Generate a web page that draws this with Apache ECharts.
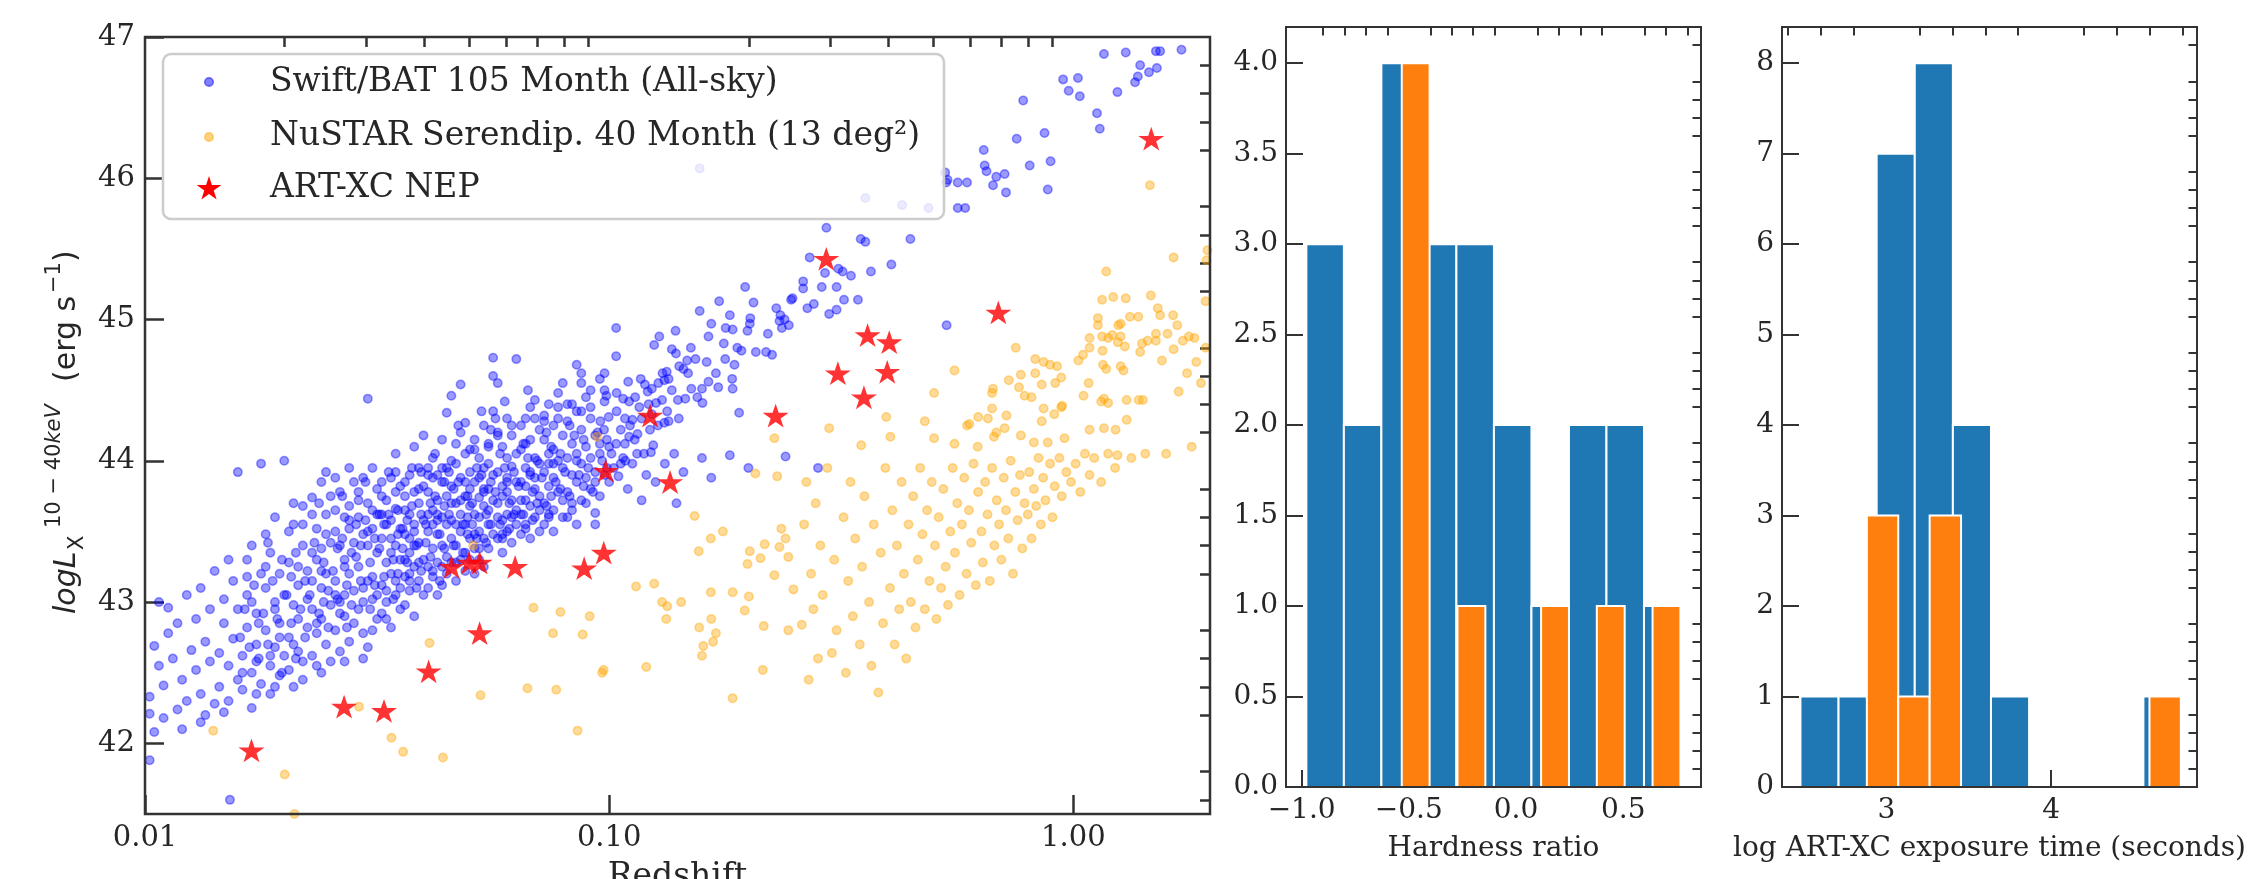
<!DOCTYPE html>
<html>
<head>
<meta charset="utf-8">
<script src="https://cdn.jsdelivr.net/npm/echarts@6.0.0/dist/echarts.min.js"></script>
<style>
  html, body { margin: 0; padding: 0; background: #ffffff; }
  #main { width: 2259px; height: 879px; }
</style>
</head>
<body>
<div id="main"></div>
<script>
// ---------------------------------------------------------------------------
// Data
// ---------------------------------------------------------------------------

// Swift/BAT 105-month AGN: [log10(redshift), log L_X (10-40 keV)]
const batPoints = [
  [-1.99,42.33],[-1.99,42.21],[-1.98,42.69],[-1.99,41.88],[-1.98,42.08],[-1.97,43.00],[-1.96,42.41],[-1.96,42.18],[-1.95,42.96],[-1.97,42.55],[-1.95,42.78],
  [-1.94,42.60],[-1.93,42.24],[-1.93,42.85],[-1.92,42.45],[-1.91,43.05],[-1.91,42.30],[-1.90,42.66],[-1.92,42.10],
  [-1.89,42.52],[-1.89,42.88],[-1.88,42.35],[-1.88,43.10],[-1.87,42.72],[-1.87,42.20],[-1.86,42.95],[-1.86,42.58],[-1.85,42.28],[-1.85,43.22],[-1.88,42.15],
  [-1.84,42.64],[-1.84,42.40],[-1.83,42.85],[-1.83,43.02],[-1.82,42.30],[-1.82,42.55],[-1.81,42.74],[-1.81,43.15],[-1.80,42.45],[-1.80,42.95],[-1.80,43.92],[-1.83,42.22],[-1.82,43.30],[-1.817,41.60],
  [-1.79,42.62],[-1.79,42.38],[-1.78,42.82],[-1.78,43.05],[-1.77,42.50],[-1.77,42.25],[-1.77,43.40],[-1.76,42.70],[-1.76,42.92],[-1.75,43.20],[-1.75,42.42],[-1.75,43.98],[-1.78,43.30],[-1.76,42.58],
  [-1.74,42.80],[-1.74,43.10],[-1.73,42.55],[-1.73,42.35],[-1.73,43.35],[-1.72,42.68],[-1.72,42.95],[-1.72,43.60],[-1.71,42.48],[-1.71,43.20],[-1.71,42.85],[-1.70,44.00],[-1.70,42.62],[-1.70,43.05],[-1.74,43.48],[-1.72,42.40],
  [-1.69,42.75],[-1.69,43.28],[-1.69,42.52],[-1.68,42.98],[-1.68,43.55],[-1.68,42.40],[-1.67,42.65],[-1.67,43.12],[-1.67,42.88],[-1.66,43.40],[-1.66,42.58],[-1.66,43.68],[-1.65,42.82],[-1.65,43.02],[-1.65,43.22],[-1.64,43.74],[-1.66,42.45],[-1.68,43.70],
  [-1.64,42.62],[-1.64,42.95],[-1.63,43.30],[-1.63,42.78],[-1.63,43.52],[-1.62,42.50],[-1.62,43.10],[-1.62,42.88],[-1.61,43.62],[-1.61,42.70],[-1.61,43.20],[-1.60,42.58],[-1.60,43.42],[-1.60,42.98],[-1.62,43.85],[-1.64,43.15],[-1.63,42.55],[-1.61,43.92],[-1.60,43.75],[-1.62,43.38],
  [-1.59,42.80],[-1.59,43.15],[-1.59,43.50],[-1.58,42.65],[-1.58,43.00],[-1.58,43.78],[-1.57,43.30],[-1.57,42.90],[-1.57,43.60],[-1.56,42.72],[-1.56,43.20],[-1.56,43.95],[-1.55,43.42],[-1.55,42.85],[-1.55,43.08],[-1.58,43.40],[-1.57,42.58],[-1.56,43.68],[-1.55,43.85],[-1.59,43.88],[-1.57,43.05],[-1.56,43.52],
  [-1.54,42.95],[-1.54,43.25],[-1.54,43.60],[-1.53,42.78],[-1.53,43.10],[-1.53,43.88],[-1.52,44.44],[-1.52,43.40],[-1.52,42.68],[-1.52,43.70],[-1.51,43.02],[-1.51,43.52],[-1.51,43.18],[-1.50,42.88],[-1.50,43.35],[-1.50,43.80],[-1.50,43.62],[-1.53,43.48],[-1.51,43.95],[-1.54,43.78],[-1.52,43.15],[-1.50,43.05],[-1.53,42.60],[-1.51,42.80],
  [-1.49,43.12],[-1.49,43.45],[-1.49,42.92],[-1.48,43.72],[-1.48,43.28],[-1.48,43.00],[-1.47,43.58],[-1.47,43.88],[-1.47,42.82],[-1.47,43.20],[-1.46,43.40],[-1.46,43.66],[-1.46,43.05],[-1.46,44.05],[-1.45,43.30],[-1.45,43.52],[-1.45,42.95],[-1.45,43.82],[-1.48,43.55],[-1.49,43.85],[-1.46,43.15],[-1.47,43.35],[-1.45,43.10],[-1.48,42.88],[-1.46,43.92],[-1.49,43.62],
  [-1.44,43.18],[-1.44,43.48],[-1.44,43.75],[-1.44,42.98],[-1.43,43.35],[-1.43,43.62],[-1.43,43.90],[-1.43,43.08],[-1.42,43.25],[-1.42,43.55],[-1.42,44.10],[-1.42,42.90],[-1.41,43.42],[-1.41,43.70],[-1.41,43.15],[-1.41,43.95],[-1.40,43.30],[-1.40,43.58],[-1.40,43.82],[-1.40,43.05],[-1.43,43.45],[-1.42,43.78],[-1.44,43.30],[-1.41,43.28],[-1.40,44.18],[-1.43,43.20],[-1.42,43.40],[-1.44,43.65],
  [-1.39,43.25],[-1.39,43.50],[-1.39,43.78],[-1.39,43.10],[-1.38,43.38],[-1.38,43.65],[-1.38,44.02],[-1.38,43.18],[-1.37,43.48],[-1.37,43.72],[-1.37,43.28],[-1.37,43.90],[-1.36,43.40],[-1.36,43.60],[-1.36,43.85],[-1.36,43.12],[-1.35,43.32],[-1.35,43.55],[-1.35,44.34],[-1.35,43.75],[-1.38,43.88],[-1.37,43.05],[-1.36,44.15],[-1.39,43.62],[-1.35,43.20],[-1.38,43.55],[-1.36,43.25],[-1.37,43.58],[-1.39,43.95],[-1.35,43.95],
  [-1.34,43.28],[-1.34,43.58],[-1.34,43.82],[-1.34,44.46],[-1.33,43.40],[-1.33,43.70],[-1.33,43.15],[-1.33,43.98],[-1.32,43.50],[-1.32,43.62],[-1.32,43.88],[-1.32,44.54],[-1.31,43.35],[-1.31,43.75],[-1.31,44.27],[-1.31,43.22],[-1.30,43.45],[-1.30,43.68],[-1.30,43.92],[-1.30,44.08],[-1.33,43.55],[-1.32,43.30],[-1.34,43.70],[-1.31,43.55],[-1.30,43.30],[-1.33,44.12],[-1.34,43.45],[-1.31,43.85],[-1.32,44.20],[-1.30,43.80],
  [-1.29,43.38],[-1.29,43.62],[-1.29,43.85],[-1.29,43.20],[-1.28,43.50],[-1.28,43.74],[-1.28,44.02],[-1.28,43.30],[-1.27,43.45],[-1.27,43.68],[-1.27,43.95],[-1.27,44.25],[-1.26,43.55],[-1.26,43.80],[-1.26,43.38],[-1.26,44.12],[-1.25,43.48],[-1.25,43.72],[-1.25,44.73],[-1.25,44.60],[-1.25,43.90],[-1.28,43.88],[-1.27,43.25],[-1.29,44.08],[-1.26,43.65],[-1.28,43.60],[-1.27,43.78],[-1.25,44.35],[-1.29,43.48],[-1.26,43.98],
  [-1.24,43.45],[-1.24,43.70],[-1.24,43.92],[-1.24,44.55],[-1.23,43.58],[-1.23,43.82],[-1.23,44.10],[-1.23,43.35],[-1.22,43.62],[-1.22,43.88],[-1.22,43.50],[-1.22,44.30],[-1.21,43.72],[-1.21,43.96],[-1.21,43.42],[-1.21,44.18],[-1.20,43.65],[-1.20,43.85],[-1.20,44.72],[-1.20,43.55],[-1.23,43.75],[-1.22,44.02],[-1.24,43.60],[-1.21,43.60],[-1.20,44.05],[-1.24,44.20],[-1.22,43.78],[-1.23,43.48],
  [-1.19,43.62],[-1.19,43.85],[-1.19,44.08],[-1.19,43.48],[-1.18,43.72],[-1.18,43.95],[-1.18,44.30],[-1.18,43.55],[-1.17,43.68],[-1.17,43.90],[-1.17,44.15],[-1.16,44.43],[-1.16,43.80],[-1.16,43.60],[-1.16,44.02],[-1.15,43.75],[-1.15,43.98],[-1.15,44.22],[-1.15,43.50],[-1.18,43.82],[-1.17,44.38],[-1.19,43.72],[-1.16,43.88],[-1.15,43.65],[-1.17,43.45],[-1.18,44.12],
  [-1.14,43.70],[-1.14,43.92],[-1.14,44.15],[-1.14,43.55],[-1.13,43.82],[-1.13,44.05],[-1.13,44.40],[-1.12,43.65],[-1.12,43.88],[-1.12,44.25],[-1.12,43.50],[-1.11,43.78],[-1.11,44.00],[-1.11,44.48],[-1.10,43.72],[-1.10,43.95],[-1.10,44.18],[-1.10,43.60],[-1.13,43.60],[-1.11,44.30],[-1.14,44.32],[-1.12,44.08],[-1.10,44.55],[-1.13,43.98],
  [-1.09,43.78],[-1.09,44.02],[-1.09,44.28],[-1.08,43.65],[-1.08,43.90],[-1.08,44.12],[-1.07,44.68],[-1.07,43.85],[-1.07,44.05],[-1.07,44.35],[-1.06,43.72],[-1.06,43.98],[-1.06,44.22],[-1.05,43.88],[-1.05,44.10],[-1.05,44.45],[-1.08,44.40],[-1.06,44.55],[-1.09,43.60],[-1.05,43.70],[-1.07,43.55],[-1.06,44.62],
  [-1.04,43.80],[-1.04,44.02],[-1.04,44.30],[-1.03,43.63],[-1.03,43.92],[-1.03,44.18],[-1.02,44.05],[-1.02,43.75],[-1.01,43.90],[-1.01,44.42],[-1.00,44.10],[-1.00,43.85],[-1.04,44.50],[-1.02,44.58],[-1.03,43.55],[-1.01,44.62],
  [-0.99,43.95],[-0.98,43.89],[-0.97,44.02],[-0.96,43.80],[-0.95,43.98],[-0.94,44.05],[-0.93,43.72],[-0.92,43.90],[-0.91,44.06],[-0.90,43.85],[-0.88,43.98],[-0.86,44.05],[-0.855,43.70],[-0.84,43.92],[-0.80,44.02],[-0.78,43.88],[-0.74,44.04],[-0.70,43.95],[-0.62,44.03],[-0.55,43.95],
  [-1.006,44.46],[-0.984,44.48],[-0.970,44.44],[-0.957,44.42],[-0.944,44.45],[-0.917,44.49],[-0.899,44.41],[-0.886,44.43],[-0.852,44.43],[-0.836,44.44],[-0.720,44.34],[-0.881,44.27],[-0.872,44.28],[-0.984,44.35],[-1.001,44.31],[-0.966,44.30],[-0.950,44.29],[-0.930,44.30],[-0.908,44.33],[-0.912,44.22],[-0.939,44.19],[-0.905,44.11],[-1.019,44.28],[-1.011,44.22],[-0.975,44.22],[-0.957,44.17],[-0.966,44.12],
  [-0.985,44.74],[-0.959,44.56],[-0.932,44.58],[-0.923,44.54],[-0.908,44.51],[-0.894,44.55],[-0.881,44.57],[-0.872,44.58],[-0.823,44.51],[-0.800,44.51],[-0.786,44.56],[-0.765,44.52],[-0.735,44.58],[-0.734,44.51],[-0.799,44.41],
  [-0.903,44.82],[-0.892,44.88],[-0.786,44.88],[-0.753,44.83],[-0.724,44.80],[-0.715,44.78],[-0.684,44.77],[-0.662,44.77],[-0.649,44.75],[-0.824,44.80],[-0.856,44.76],[-0.865,44.79],[-0.832,44.71],[-0.814,44.72],[-0.849,44.67],[-0.840,44.65],[-0.876,44.63],
  [-0.805,45.06],[-0.740,45.03],[-0.696,45.01],[-0.697,44.97],[-0.702,44.92],[-0.780,44.97],[-0.749,44.94],[-0.734,44.93],[-0.658,44.90],[-0.857,44.92],[-0.985,44.94],
  [-0.573,45.08],[-0.559,45.11],[-0.526,45.04],[-0.510,45.07],[-0.640,45.08],[-0.631,45.03],[-0.622,45.00],[-0.633,44.99],[-0.613,44.96],[-0.628,44.94],
  [-0.494,45.14],[-0.464,45.14],[-0.608,45.14],[-0.605,45.15],[-0.689,45.12],[-0.763,45.13],[-0.707,45.23],
  [-0.582,45.27],[-0.582,45.22],[-0.542,45.23],[-0.510,45.23],[-0.535,45.33],[-0.506,45.36],[-0.497,45.34],[-0.479,45.31],
  [-0.532,45.65],[-0.458,45.57],[-0.448,45.55],[-0.351,45.57],[-0.568,45.44],[-0.392,45.39],[-0.436,45.34],[-0.273,44.96],
  [-0.249,45.97],[-0.229,45.97],[-0.271,45.99],[-0.249,45.79],[-0.233,45.79],
  [-0.805,46.07],[-0.448,45.86],[-0.369,45.81],[-0.312,45.79],[-0.276,46.04],[-0.274,45.97],
  [-0.193,46.20],[-0.191,46.09],[-0.187,46.05],[-0.166,46.01],[-0.148,46.03],[-0.173,45.95],[-0.145,45.90],[-0.094,46.09],[-0.049,46.12],[-0.055,45.92],
  [-0.108,46.55],[0.051,46.46],[0.057,46.35],[-0.122,46.28],[-0.062,46.32],
  [-0.022,46.70],[0.010,46.71],[-0.010,46.62],[0.014,46.58],[0.095,46.61],[0.144,46.80],[0.139,46.72],[0.133,46.68],[0.163,46.75],[0.180,46.78],
  [0.066,46.88],[0.113,46.89],[0.178,46.90],[0.187,46.90],[0.233,46.91],
  // dense core of the local AGN sequence
  [-1.795,42.75],[-1.785,42.95],[-1.775,42.68],[-1.765,43.12],[-1.755,42.85],[-1.79,42.50],[-1.77,43.00],[-1.76,42.35],[-1.78,43.18],[-1.755,42.60],
  [-1.745,42.92],[-1.735,42.70],[-1.725,43.15],[-1.715,42.88],[-1.705,43.30],[-1.74,43.25],[-1.73,42.62],[-1.72,43.00],[-1.71,42.75],[-1.705,42.50],[-1.735,43.42],
  [-1.695,43.05],[-1.685,42.85],[-1.675,43.35],[-1.665,42.95],[-1.655,43.15],[-1.69,43.50],[-1.68,42.70],[-1.67,43.25],[-1.66,43.55],[-1.655,42.75],[-1.685,43.18],[-1.675,42.60],
  [-1.645,43.05],[-1.635,43.42],[-1.625,42.92],[-1.615,43.28],[-1.605,43.08],[-1.64,43.62],[-1.63,42.85],[-1.62,43.22],[-1.61,43.48],[-1.605,42.82],[-1.64,43.35],[-1.625,43.70],[-1.615,43.00],
  [-1.595,43.22],[-1.585,43.02],[-1.575,43.45],[-1.565,43.12],[-1.555,43.35],[-1.59,43.65],[-1.58,42.92],[-1.57,43.25],[-1.56,43.58],[-1.555,42.98],[-1.585,43.38],[-1.575,43.75],[-1.565,42.82],[-1.59,43.05],
  [-1.545,43.32],[-1.535,43.15],[-1.525,43.58],[-1.515,43.28],[-1.505,43.45],[-1.54,43.72],[-1.53,43.00],[-1.52,43.50],[-1.51,43.65],[-1.505,43.12],[-1.535,43.40],[-1.525,43.85],[-1.515,42.95],[-1.545,43.55],
  [-1.495,43.38],[-1.485,43.18],[-1.475,43.62],[-1.465,43.30],[-1.455,43.48],[-1.49,43.75],[-1.48,43.08],[-1.47,43.45],[-1.46,43.78],[-1.455,43.20],[-1.485,43.55],[-1.475,43.92],[-1.465,43.02],[-1.495,43.62],[-1.455,43.65],
  [-1.445,43.52],[-1.435,43.28],[-1.425,43.68],[-1.415,43.40],[-1.405,43.62],[-1.44,43.85],[-1.43,43.15],[-1.42,43.50],[-1.41,43.80],[-1.405,43.22],[-1.435,43.58],[-1.425,43.95],[-1.415,43.10],[-1.445,43.38],[-1.405,43.92],
  [-1.395,43.55],[-1.385,43.32],[-1.375,43.75],[-1.365,43.48],[-1.355,43.68],[-1.39,43.90],[-1.38,43.22],[-1.37,43.62],[-1.36,43.95],[-1.355,43.38],[-1.385,43.70],[-1.375,44.05],[-1.365,43.15],[-1.395,43.42],[-1.355,43.85],
  [-1.345,43.62],[-1.335,43.40],[-1.325,43.85],[-1.315,43.55],[-1.305,43.75],[-1.34,44.00],[-1.33,43.28],[-1.32,43.72],[-1.31,44.05],[-1.305,43.48],[-1.335,43.80],[-1.325,44.25],[-1.315,43.35],[-1.345,43.92],[-1.305,43.60],
  [-1.295,43.70],[-1.285,43.45],[-1.275,43.90],[-1.265,43.62],[-1.255,43.85],[-1.29,44.15],[-1.28,43.38],[-1.27,43.80],[-1.26,44.10],[-1.255,43.55],[-1.285,43.95],[-1.275,44.35],[-1.265,43.42],[-1.295,43.55],[-1.255,44.22],
  [-1.245,43.78],[-1.235,43.55],[-1.225,43.95],[-1.215,43.70],[-1.205,43.92],[-1.24,44.18],[-1.23,43.45],[-1.22,43.85],[-1.21,44.25],[-1.205,43.62],[-1.235,44.05],[-1.225,44.42],[-1.215,43.52],[-1.245,44.30],
  [-1.195,43.82],[-1.185,43.62],[-1.175,44.02],[-1.165,43.78],[-1.155,44.00],[-1.19,44.25],[-1.18,43.52],[-1.17,43.92],[-1.16,44.30],[-1.155,43.70],[-1.185,44.12],[-1.175,44.50],[-1.165,43.58],
  [-1.145,43.88],[-1.135,43.68],[-1.125,44.10],[-1.115,43.85],[-1.105,44.05],[-1.14,44.28],[-1.13,43.62],[-1.12,43.98],[-1.11,44.38],[-1.105,43.80],[-1.135,44.20],[-1.125,43.75],
  [-1.095,43.92],[-1.085,43.75],[-1.075,44.18],[-1.065,43.90],[-1.055,44.15],[-1.09,44.40],[-1.08,43.70],[-1.07,44.00],[-1.06,44.35],[-1.055,43.82],[-1.085,44.25],
  [-1.045,43.95],[-1.035,43.78],[-1.025,44.20],[-1.015,44.00],[-1.005,44.15],[-1.04,44.38],[-1.03,43.85],[-1.02,44.12],[-1.01,44.50],[-1.005,43.95],
  [-0.995,44.05],[-0.985,44.12],[-0.975,43.98],[-0.965,44.00],[-0.955,44.25],[-0.945,44.15],[-0.935,44.38],[-0.925,44.05],[-0.915,44.40],[-0.895,44.25],
  [-0.885,44.62],[-0.875,44.35],[-0.865,44.50],[-0.85,44.30],[-0.83,44.62],[-0.81,44.45],[-0.79,44.70],[-0.77,44.62],[-0.75,44.72],[-0.73,44.68]
];

// NuSTAR serendipitous survey (40 month): [log10(redshift), log L_X (10-40 keV)]
const nustarPoints = [
  [-1.026,44.17],[-1.853,42.09],[-1.699,41.78],[-1.678,41.50],[-1.539,42.26],[-1.469,42.04],[-1.444,41.94],[-1.358,41.90],[-1.387,42.71],[-1.277,42.34],
  [-1.293,43.40],[-1.176,42.39],[-1.114,42.38],[-1.163,42.96],[-1.105,42.93],[-1.121,42.78],[-1.057,42.77],[-1.042,42.90],[-1.068,42.09],[-1.012,42.52],[-1.015,42.50],
  [-0.942,43.11],[-0.903,43.13],[-0.886,43.00],[-0.875,42.97],[-0.877,42.88],[-0.845,43.00],[-0.920,42.54],[-0.816,43.61],[-0.807,43.36],[-0.781,43.45],[-0.755,43.50],
  [-0.781,43.07],[-0.806,42.82],[-0.780,42.88],[-0.770,42.78],[-0.797,42.69],[-0.800,42.62],[-0.776,42.72],[-0.734,43.07],[-0.734,42.32],[-0.697,43.36],[-0.702,43.27],
  [-0.665,43.41],[-0.674,43.31],[-0.633,43.39],[-0.644,43.19],[-0.699,43.04],[-0.708,42.94],[-0.667,42.83],[-0.614,42.80],[-0.669,42.52],[-0.685,43.91],[-0.638,43.89],
  [-0.629,43.52],[-0.614,43.32],[-0.603,43.09],[-0.620,43.45],
  [-0.585,42.84],[-0.58,43.55],[-0.575,43.85],[-0.57,42.45],[-0.565,43.20],[-0.56,42.95],[-0.555,43.70],[-0.55,42.60],[-0.545,43.40],[-0.54,43.05],[-0.53,43.95],[-0.52,42.64],[-0.515,43.30],[-0.51,42.80],
  [-0.495,43.60],[-0.49,42.50],[-0.485,43.15],[-0.48,43.85],[-0.475,42.90],[-0.47,43.45],[-0.46,42.70],[-0.455,43.25],[-0.45,43.75],[-0.44,43.00],[-0.435,42.55],[-0.43,43.55],[-0.42,42.36],[-0.415,43.35],[-0.41,42.85],[-0.405,43.95],
  [-0.395,43.10],[-0.39,43.65],[-0.385,42.70],[-0.38,43.40],[-0.375,42.95],[-0.37,43.85],[-0.365,43.20],[-0.36,42.60],[-0.355,43.55],[-0.35,43.00],[-0.345,43.75],[-0.34,42.82],[-0.335,43.30],[-0.33,43.95],[-0.325,43.48],[-0.32,42.95],[-0.315,43.65],[-0.31,43.15],[-0.305,43.85],
  [-0.298,43.40],[-0.295,42.88],[-0.29,43.60],[-0.285,43.10],[-0.28,43.80],[-0.275,43.25],[-0.27,42.98],[-0.265,43.50],[-0.26,43.95],[-0.255,43.35],[-0.25,43.70],[-0.245,43.05],[-0.24,43.55],[-0.235,43.88],[-0.23,43.20],[-0.225,43.65],[-0.22,43.42],[-0.215,43.98],[-0.21,43.12],[-0.205,43.78],
  [-0.198,43.50],[-0.195,43.28],[-0.19,43.85],[-0.185,43.62],[-0.18,43.15],[-0.175,43.95],[-0.17,43.40],[-0.165,43.72],[-0.16,43.55],[-0.155,43.30],[-0.15,43.88],[-0.145,43.65],[-0.14,43.45],[-0.135,44.00],[-0.13,43.20],[-0.125,43.78],[-0.12,43.58],[-0.115,43.90],[-0.11,43.38],[-0.105,43.70],
  [-0.098,43.62],[-0.095,43.92],[-0.09,43.45],[-0.085,43.80],[-0.08,43.68],[-0.075,44.02],[-0.07,43.55],[-0.065,43.88],[-0.06,43.72],[-0.05,43.98],[-0.045,43.60],[-0.04,43.82],[-0.03,44.02],[-0.025,43.75],[-0.015,43.92],[-0.005,43.85],
  [0.005,43.98],[0.015,43.78],[0.025,44.05],[0.035,43.90],[0.045,44.02],[0.06,43.85],[0.075,44.05],[0.09,43.95],[0.095,44.04],
  [0.125,44.02],[0.155,44.05],[0.20,44.05],[0.255,44.10],[0.275,44.55],[0.265,44.70],[0.245,44.62],[0.285,44.80],
  [-0.300,44.48],[-0.403,44.31],[-0.320,44.28],[-0.229,44.25],[-0.526,44.23],[-0.394,44.17],[-0.457,44.11],[-0.300,44.16],[-0.256,44.12],[-0.206,44.10],[-0.644,44.16],
  [-0.124,44.80],[-0.256,44.64],
  [-0.082,44.72],[-0.064,44.70],[-0.050,44.68],[-0.035,44.67],[-0.113,44.61],[-0.082,44.62],[-0.026,44.59],[-0.068,44.54],[-0.039,44.55],[-0.139,44.57],[-0.117,44.52],
  [-0.105,44.46],[-0.090,44.45],[-0.173,44.51],[-0.175,44.48],[-0.024,44.39],[-0.041,44.33],[-0.026,44.38],[-0.068,44.28],[-0.085,44.13],[-0.055,44.13],[-0.019,44.16],
  [-0.113,44.18],[-0.144,44.32],[-0.148,44.23],[-0.175,44.37],[-0.184,44.30],[-0.205,44.31],[-0.224,44.26],[-0.166,44.20],[-0.171,44.17],[-0.064,44.37],
  [0.033,44.55],[0.022,44.46],[0.066,44.44],[0.075,44.41],[0.115,44.43],[0.115,44.29],[0.141,44.43],[0.150,44.43],[0.227,44.49],[0.060,44.42],[0.035,44.22],[0.066,44.23],[0.091,44.22],
  [0.011,44.71],[0.021,44.75],[0.064,44.68],[0.071,44.65],[0.102,44.67],[0.108,44.64],[0.191,44.71],
  [0.035,44.80],[0.063,44.78],[0.096,44.84],[0.111,44.81],[0.144,44.77],[0.178,44.85],[0.216,44.79],
  [0.035,44.87],[0.062,44.88],[0.075,44.87],[0.084,44.89],[0.102,44.88],[0.148,44.83],[0.160,44.85],[0.178,44.90],[0.203,44.90],[0.236,44.85],[0.249,44.88],[0.261,44.87],
  [0.053,45.01],[0.053,44.96],[0.097,44.96],[0.102,44.97],[0.122,45.02],[0.140,45.02],[0.182,45.08],[0.187,45.03],[0.215,45.03],[0.224,44.96],
  [0.062,45.14],[0.086,45.16],[0.113,45.15],[0.167,45.17],[0.285,45.13],[0.071,45.34],[0.216,45.44],[0.289,45.49],[0.287,45.42],[0.165,45.95]
];

// ART-XC NEP sources
const artRedshift = [0.01696,0.02685,0.03273,0.04084,0.04576,0.04992,0.05259,0.05259,0.06272,0.08834,0.09736,0.09833,
                     0.1353,0.1225,0.2284,0.2936,0.3110,0.3539,0.3604,0.4013,0.3973,0.6894,1.472];
const artLogL     = [41.95,42.26,42.23,42.51,43.25,43.28,43.28,42.78,43.25,43.24,43.35,43.93,
                     43.85,44.32,44.32,45.43,44.62,44.45,44.89,44.84,44.63,45.05,46.28];

// Hardness-ratio histograms: value range and counts per bin
const hrAllRange  = [-0.978, 0.772];
const hrAllCounts = [3, 2, 4, 3, 3, 2, 1, 2, 2, 1];
const hrSubRange  = [-0.533, 0.767];
const hrSubCounts = [4, 0, 1, 0, 0, 1, 0, 1, 0, 1];

// Exposure-time histograms (log seconds): value range and counts per bin
const expAllRange  = [2.478, 4.791];
const expAllCounts = [1, 1, 7, 8, 4, 1, 0, 0, 0, 1];
const expSubRange  = [2.881, 4.787];
const expSubCounts = [3, 1, 3, 0, 0, 0, 0, 0, 0, 1];

// Tick positions
const zMajorTicks = [0.01, 0.1, 1];
const zMinorTicks = [0.02,0.03,0.04,0.05,0.06,0.07,0.08,0.09,0.2,0.3,0.4,0.5,0.6,0.7,0.8,0.9];
const lumMajorTicks = [42, 43, 44, 45, 46, 47];
const hrMajorTicks = [-1.0, -0.5, 0.0, 0.5];
const hrCountMajorTicks = [0, 0.5, 1.0, 1.5, 2.0, 2.5, 3.0, 3.5, 4.0];
const expMajorTicks = [3, 4];
const expCountMajorTicks = [0, 1, 2, 3, 4, 5, 6, 7, 8];

// ---------------------------------------------------------------------------
// Helpers
// ---------------------------------------------------------------------------
function stepTicks(from, to, step, skip) {
  const out = [];
  const n = Math.round((to - from) / step);
  for (let i = 0; i <= n; i++) {
    const v = Math.round((from + i * step) * 1000) / 1000;
    if (!skip.some(s => Math.abs(s - v) < 1e-6)) out.push(v);
  }
  return out;
}
function histBins(range, counts) {
  const w = (range[1] - range[0]) / counts.length;
  return counts.map((c, i) => [range[0] + i * w, range[0] + (i + 1) * w, c]);
}
// five-pointed star outline around (cx, cy) with outer radius r
function starPoints(cx, cy, r) {
  const pts = [];
  for (let k = 0; k < 10; k++) {
    const rr = k % 2 ? r * 0.382 : r;
    const a = -Math.PI / 2 + k * Math.PI / 5;
    pts.push([cx + rr * Math.cos(a), cy + rr * Math.sin(a)]);
  }
  return pts;
}
const fmtSigned = d => v => (v < 0 ? '\u2212' + Math.abs(v).toFixed(d) : Number(v).toFixed(d));

const SERIF = 'DejaVu Serif';
const SANS = 'DejaVu Sans';
const INK = '#262626';
const FRAME = '#333333';
const BAT_COLOR = 'rgba(0,0,255,0.5)';
const NUSTAR_COLOR = 'rgba(255,165,0,0.5)';
const HIST_BLUE = '#1f77b4';
const HIST_ORANGE = '#ff7f0e';
const STAR_PATH = 'path://M100 0 L122.45 69.1 L195.11 69.1 L136.33 111.8 L158.78 180.9 L100 138.2 L41.22 180.9 L63.67 111.8 L4.89 69.1 L77.55 69.1 Z';

function tickAxis(base, values, len, width, withLabels, labelOpts) {
  return Object.assign({
    axisLine: { show: false, onZero: false },
    splitLine: { show: false },
    axisTick: { show: true, inside: true, length: len, customValues: values,
                lineStyle: { color: FRAME, width: width } },
    axisLabel: withLabels
      ? Object.assign({ customValues: values, fontFamily: SERIF, color: INK }, labelOpts)
      : { show: false },
    z: 1
  }, base);
}

function histSeries(bins, color, xi, yi) {
  return {
    type: 'custom', xAxisIndex: xi, yAxisIndex: yi, silent: true, z: 2,
    encode: { x: [0, 1], y: 2 },
    data: bins,
    renderItem(params, api) {
      const c = api.value(2);
      if (!c) return null;
      const tl = api.coord([api.value(0), c]);
      const br = api.coord([api.value(1), 0]);
      return {
        type: 'rect',
        shape: { x: tl[0], y: tl[1], width: br[0] - tl[0], height: br[1] - tl[1] },
        style: { fill: color, stroke: '#ffffff', lineWidth: 2 }
      };
    }
  };
}

// ---------------------------------------------------------------------------
// Chart
// ---------------------------------------------------------------------------
const chart = echarts.init(document.getElementById('main'), null, { renderer: 'canvas' });

const zMin = 0.01, zMax = 1.97;
const lumMin = 41.5, lumMax = 47;

const gridBase = { show: true, borderColor: FRAME, backgroundColor: 'transparent', z: 10,
                   containLabel: false, outerBoundsMode: 'none' };

const option = {
  animation: false,
  backgroundColor: '#ffffff',
  grid: [
    Object.assign({ left: 145, top: 37, width: 1065, height: 777, borderWidth: 2.5 }, gridBase),
    Object.assign({ left: 1286, top: 27, width: 415, height: 760, borderWidth: 2 }, gridBase),
    Object.assign({ left: 1782, top: 27, width: 415, height: 760, borderWidth: 2 }, gridBase)
  ],
  xAxis: [
    tickAxis({ gridIndex: 0, type: 'log', logBase: 10, min: zMin, max: zMax,
               name: 'Redshift', nameLocation: 'middle', nameGap: 47,
               nameTextStyle: { fontFamily: SERIF, fontSize: 33, color: INK } },
             zMajorTicks, 19, 2.5, true,
             { fontSize: 29, margin: 10, formatter: v => Number(v).toFixed(2) }),
    tickAxis({ gridIndex: 0, type: 'log', logBase: 10, min: zMin, max: zMax }, zMinorTicks, 10, 2.5, false),

    tickAxis({ gridIndex: 1, type: 'value', min: -1.073, max: 0.863,
               name: 'Hardness ratio', nameLocation: 'middle', nameGap: 48,
               nameTextStyle: { fontFamily: SERIF, fontSize: 28, color: INK } },
             hrMajorTicks, 17, 2, true, { fontSize: 28, margin: 10, formatter: fmtSigned(1) }),
    tickAxis({ gridIndex: 1, type: 'value', min: -1.073, max: 0.863 },
             stepTicks(-1.0, 0.8, 0.1, hrMajorTicks), 8.5, 2, false),

    tickAxis({ gridIndex: 2, type: 'value', min: 2.366, max: 4.885,
               name: 'log ART-XC exposure time (seconds)', nameLocation: 'middle', nameGap: 48,
               nameTextStyle: { fontFamily: SERIF, fontSize: 28, color: INK } },
             expMajorTicks, 17, 2, true, { fontSize: 28, margin: 10, formatter: v => String(v) }),
    tickAxis({ gridIndex: 2, type: 'value', min: 2.366, max: 4.885 },
             stepTicks(2.4, 4.8, 0.2, expMajorTicks), 8.5, 2, false)
  ],
  yAxis: [
    tickAxis({ gridIndex: 0, type: 'value', min: lumMin, max: lumMax },
             lumMajorTicks, 19, 2.5, true, { fontSize: 29, margin: 10, formatter: v => String(v) }),
    tickAxis({ gridIndex: 0, type: 'value', min: lumMin, max: lumMax },
             stepTicks(41.6, 46.8, 0.2, lumMajorTicks), 10, 2.5, false),

    tickAxis({ gridIndex: 1, type: 'value', min: 0, max: 4.2 },
             hrCountMajorTicks, 17, 2, true, { fontSize: 28, margin: 8, formatter: v => Number(v).toFixed(1) }),
    tickAxis({ gridIndex: 1, type: 'value', min: 0, max: 4.2 },
             stepTicks(0.1, 4.1, 0.1, hrCountMajorTicks), 8.5, 2, false),

    tickAxis({ gridIndex: 2, type: 'value', min: 0, max: 8.4 },
             expCountMajorTicks, 17, 2, true, { fontSize: 28, margin: 8, formatter: v => String(v) }),
    tickAxis({ gridIndex: 2, type: 'value', min: 0, max: 8.4 },
             stepTicks(0.2, 8.2, 0.2, expCountMajorTicks), 8.5, 2, false)
  ],
  series: [
    {
      name: 'Swift/BAT 105 Month (All-sky)', type: 'scatter', xAxisIndex: 0, yAxisIndex: 0,
      silent: true, z: 2, symbol: 'circle', symbolSize: 8.5,
      itemStyle: { color: BAT_COLOR, borderColor: BAT_COLOR, borderWidth: 1.5 },
      data: batPoints.map(p => [Math.pow(10, p[0]), p[1]])
    },
    {
      name: 'NuSTAR Serendip. 40 Month (13 deg\u00b2)', type: 'scatter', xAxisIndex: 0, yAxisIndex: 0,
      silent: true, z: 3, symbol: 'circle', symbolSize: 8.5,
      itemStyle: { color: NUSTAR_COLOR, borderColor: NUSTAR_COLOR, borderWidth: 1.5 },
      data: nustarPoints.map(p => [Math.pow(10, p[0]), p[1]])
    },
    {
      name: 'ART-XC NEP', type: 'scatter', xAxisIndex: 0, yAxisIndex: 0,
      silent: true, z: 4, symbol: STAR_PATH, symbolSize: [26, 25], symbolKeepAspect: true,
      itemStyle: { color: '#ff0000' },
      data: artRedshift.map((z, i) => [z, artLogL[i]])
    },
    histSeries(histBins(hrAllRange, hrAllCounts), HIST_BLUE, 2, 2),
    histSeries(histBins(hrSubRange, hrSubCounts), HIST_ORANGE, 2, 2),
    histSeries(histBins(expAllRange, expAllCounts), HIST_BLUE, 4, 4),
    histSeries(histBins(expSubRange, expSubCounts), HIST_ORANGE, 4, 4)
  ],
  graphic: [
    // legend box of the scatter panel
    { type: 'rect', z: 100, silent: true,
      shape: { x: 163, y: 54, width: 781, height: 165, r: 8 },
      style: { fill: 'rgba(255,255,255,0.8)', stroke: '#cccccc', lineWidth: 2.5 } },
    { type: 'circle', z: 101, silent: true, shape: { cx: 209, cy: 82, r: 4.3 },
      style: { fill: BAT_COLOR, stroke: BAT_COLOR, lineWidth: 1.5 } },
    { type: 'circle', z: 101, silent: true, shape: { cx: 209, cy: 137, r: 4.3 },
      style: { fill: NUSTAR_COLOR, stroke: NUSTAR_COLOR, lineWidth: 1.5 } },
    { type: 'polygon', z: 101, silent: true,
      shape: { points: starPoints(209, 189, 13) },
      style: { fill: '#ff0000' } },
    { type: 'text', z: 101, silent: true, x: 270, y: 82,
      style: { text: 'Swift/BAT 105 Month (All-sky)', fontFamily: SERIF, fontSize: 33, fill: INK, verticalAlign: 'middle' } },
    { type: 'text', z: 101, silent: true, x: 270, y: 136,
      style: { text: 'NuSTAR Serendip. 40 Month (13 deg\u00b2)', fontFamily: SERIF, fontSize: 33, fill: INK, verticalAlign: 'middle' } },
    { type: 'text', z: 101, silent: true, x: 270, y: 188,
      style: { text: 'ART-XC NEP', fontFamily: SERIF, fontSize: 33, fill: INK, verticalAlign: 'middle' } },

    // y-axis title of the scatter panel, reading upwards
    { type: 'group', x: 67, y: 614, rotation: Math.PI / 2, silent: true, z: 50,
      children: [
        { type: 'text', x: 0, y: 0,
          style: { text: 'logL', fontFamily: SANS, fontStyle: 'italic', fontSize: 30, fill: INK, verticalAlign: 'middle', align: 'left' } },
        { type: 'text', x: 64, y: 11,
          style: { text: 'X', fontFamily: SANS, fontSize: 21, fill: INK, verticalAlign: 'middle', align: 'left' } },
        { type: 'text', x: 86, y: -12,
          style: { text: '{n|10 \u2212 40}{i|keV}', verticalAlign: 'middle', align: 'left',
                   rich: { n: { fontFamily: SANS, fontSize: 21, fill: INK, color: INK },
                           i: { fontFamily: SANS, fontStyle: 'italic', fontSize: 21, fill: INK, color: INK } } } },
        { type: 'text', x: 232, y: 0,
          style: { text: '(erg s', fontFamily: SANS, fontSize: 30, fill: INK, verticalAlign: 'middle', align: 'left' } },
        { type: 'text', x: 321, y: -12,
          style: { text: '\u22121', fontFamily: SANS, fontSize: 21, fill: INK, verticalAlign: 'middle', align: 'left' } },
        { type: 'text', x: 352, y: 0,
          style: { text: ')', fontFamily: SANS, fontSize: 30, fill: INK, verticalAlign: 'middle', align: 'left' } }
      ] }
  ]
};

chart.setOption(option);
</script>
</body>
</html>
